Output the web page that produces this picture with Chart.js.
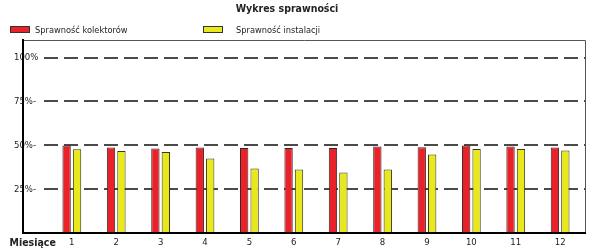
<!DOCTYPE html>
<html>
<head>
<meta charset="utf-8">
<script src="https://cdn.jsdelivr.net/npm/chart.js@4/dist/chart.umd.min.js"></script>
<style>
  body { margin: 0; background: #fff; }
  #wrap { width: 596px; height: 251px; }
</style>
</head>
<body>
<div id="wrap"><canvas id="myChart" width="596" height="251"></canvas></div>
<script>
var months = [1, 2, 3, 4, 5, 6, 7, 8, 9, 10, 11, 12];
var kolektory = [49.8, 48.7, 48.1, 48.7, 48.5, 48.5, 48.5, 49.3, 48.9, 49.8, 49.3, 48.7];
var instalacja = [47.7, 46.8, 46.2, 42.4, 36.8, 36.2, 34.5, 36.2, 44.7, 47.9, 47.9, 47.0];
var yTicks = [25, 50, 75, 100];
var seriesNames = ['Sprawność kolektorów', 'Sprawność instalacji'];

var FONT = "'DejaVu Sans Condensed', 'DejaVu Sans', sans-serif";
var RED = 'rgb(232, 34, 40)';
var YELLOW = 'rgb(232, 232, 28)';

// title, legend and the "Miesiące" caption
var extras = {
    id: 'extras',
    beforeDatasetsDraw: function(chart) {
        var ctx = chart.ctx, a = chart.chartArea;
        ctx.save();
        ctx.strokeStyle = '#555';
        ctx.lineWidth = 1;
        ctx.beginPath();
        ctx.moveTo(a.left, a.top + 0.5);
        ctx.lineTo(a.right + 0.5, a.top + 0.5);
        ctx.lineTo(a.right + 0.5, a.bottom);
        ctx.stroke();
        ctx.restore();
    },
    afterDraw: function(chart) {
        var ctx = chart.ctx;
        ctx.save();
        ctx.fillStyle = '#222';
        ctx.textBaseline = 'alphabetic';
        ctx.font = 'bold 10.5px ' + FONT;
        ctx.textAlign = 'center';
        ctx.fillText('Wykres sprawności', 287, 11.5);

        ctx.textAlign = 'left';
        ctx.fillText('Miesiące', 9.5, 246);

        ctx.font = '9.2px ' + FONT;
        var boxes = [[10.5, RED, 35], [203.5, YELLOW, 236]];
        boxes.forEach(function(b, i) {
            ctx.fillStyle = b[1];
            ctx.fillRect(b[0], 26.5, 19, 6);
            ctx.strokeStyle = '#333';
            ctx.strokeRect(b[0], 26.5, 19, 6);
            ctx.fillStyle = '#222';
            ctx.fillText(seriesNames[i], b[2], 32.5);
        });
        ctx.restore();
    }
};

var ctx = document.getElementById('myChart').getContext('2d');
var myChart = new Chart(ctx, {
    type: 'bar',
    data: {
        datasets: [{
            label: seriesNames[0],
            data: months.map(function(m, i) { return {x: m, y: kolektory[i]}; }),
            backgroundColor: RED,
            borderColor: '#3a2424',
            borderWidth: 1
        }, {
            label: seriesNames[1],
            data: months.map(function(m, i) { return {x: m, y: instalacja[i]}; }),
            backgroundColor: YELLOW,
            borderColor: '#3a3a1a',
            borderWidth: 1
        }]
    },
    options: {
        responsive: false,
        animation: false,
        categoryPercentage: 0.47,
        barPercentage: 0.8,
        layout: { padding: { top: 40, left: 23, right: 11, bottom: 0 } },
        plugins: {
            legend: { display: false },
            title: { display: false },
            tooltip: { enabled: false }
        },
        scales: {
            x: {
                type: 'linear',
                offset: false,
                min: -0.1,
                max: 12.56,
                afterBuildTicks: function(s) { s.ticks = months.map(function(m) { return {value: m}; }); },
                afterFit: function(s) { s.height = 18; },
                grid: { display: false, drawTicks: false },
                border: { color: '#000', width: 2, z: 1 },
                ticks: {
                    padding: 4,
                    color: '#222',
                    font: { family: FONT, size: 9.5 },
                    callback: function(v) { return String(v); }
                }
            },
            y: {
                min: 0,
                max: 110,
                afterBuildTicks: function(s) { s.ticks = yTicks.map(function(v) { return {value: v}; }); },
                afterFit: function(s) { s.width = 0; },
                grid: {
                    color: '#4a4a4a',
                    lineWidth: 2,
                    drawTicks: false
                },
                // in v4 the dash here is used by the grid lines
                border: { color: '#000', width: 2, dash: [14, 6], z: 1 },
                ticks: {
                    mirror: true,
                    padding: -9,
                    color: '#222',
                    font: { family: FONT, size: 9.5 },
                    showLabelBackdrop: true,
                    backdropColor: '#fff',
                    backdropPadding: { left: 0, right: 4, top: 1, bottom: 1 },
                    callback: function(v) { return v + '%' + (v < 100 ? '-' : ''); }
                }
            }
        }
    },
    plugins: [extras]
});
</script>
</body>
</html>
